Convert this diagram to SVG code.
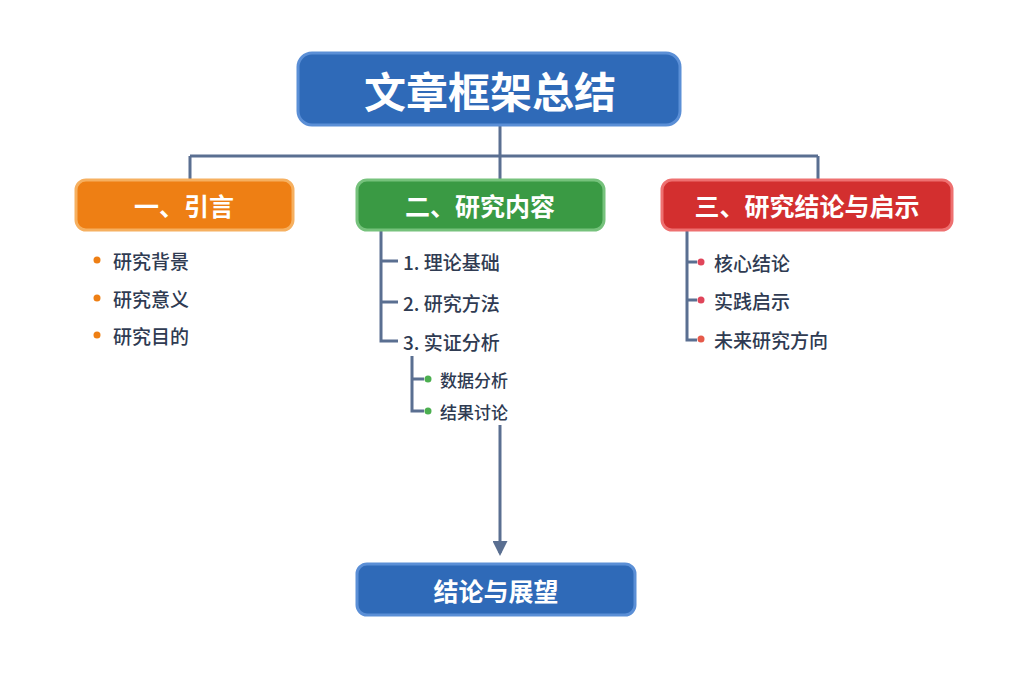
<svg xmlns="http://www.w3.org/2000/svg" width="1024" height="683" viewBox="0 0 1024 683">
<style>
text{font-family:"Noto Sans CJK SC","Noto Sans",sans-serif}
.hd{fill:#fff;font-weight:700;text-anchor:middle;dominant-baseline:central}
.it{fill:#2f3b52;font-size:19px;font-weight:500;dominant-baseline:central}
.sb{fill:#2f3b52;font-size:17px;font-weight:500;dominant-baseline:central}
.ln{stroke:#5a6f91;stroke-width:3;fill:none}
</style>
<defs><marker id="ah" viewBox="0 0 10 10" refX="8" refY="5" markerWidth="5" markerHeight="5" orient="auto"><path d="M0,0L10,5L0,10z" fill="#5a6f91"/></marker></defs>
<rect width="1024" height="683" fill="#fff"/>
<g id="connectors" class="ln">
<path d="M500,125V156M190,156H818M190,156V180M500,156V180M818,156V180"/>
<path d="M381,230V341H398M381,261H398M381,302H398"/>
<path d="M412,356V411H424M412,379H424"/>
<path d="M687,230V340H697M687,262H697M687,300H697"/>
<path d="M500,425V553" marker-end="url(#ah)"/>
</g>
<g id="root"><rect x="298" y="53" width="382" height="72" rx="14" fill="#2f6ab8" stroke="#5b8fd6" stroke-width="3"/><text class="hd" x="490" y="89" font-size="42">文章框架总结</text></g>
<g id="n1"><rect x="76" y="180" width="217" height="50" rx="10" fill="#ee7f14" stroke="#f6b060" stroke-width="3"/><text class="hd" x="184" y="205" font-size="25">一、引言</text>
<circle cx="97" cy="260" r="3.5" fill="#ee7f14"/><text class="it" x="113" y="260">研究背景</text>
<circle cx="97" cy="298" r="3.5" fill="#ee7f14"/><text class="it" x="113" y="298">研究意义</text>
<circle cx="97" cy="335" r="3.5" fill="#ee7f14"/><text class="it" x="113" y="335">研究目的</text></g>
<g id="n2"><rect x="357" y="180" width="247" height="50" rx="10" fill="#3a9a44" stroke="#76c27c" stroke-width="3"/><text class="hd" x="480" y="205" font-size="25">二、研究内容</text>
<text class="it" x="403" y="261" font-size="20">1. 理论基础</text>
<text class="it" x="403" y="302" font-size="20">2. 研究方法</text>
<text class="it" x="403" y="341" font-size="20">3. 实证分析</text>
<circle cx="428" cy="379" r="3.5" fill="#4caf50"/><text class="sb" x="440" y="379">数据分析</text>
<circle cx="428" cy="411" r="3.5" fill="#4caf50"/><text class="sb" x="440" y="411">结果讨论</text></g>
<g id="n3"><rect x="662" y="180" width="290" height="50" rx="10" fill="#d32f2f" stroke="#ee7070" stroke-width="3"/><text class="hd" x="807" y="205" font-size="25">三、研究结论与启示</text>
<circle cx="701" cy="262" r="3.5" fill="#e0455a"/><text class="it" x="714" y="262">核心结论</text>
<circle cx="701" cy="300" r="3.5" fill="#e0455a"/><text class="it" x="714" y="300">实践启示</text>
<circle cx="701" cy="339" r="3.5" fill="#e65a4a"/><text class="it" x="714" y="339">未来研究方向</text></g>
<g id="end"><rect x="357" y="564" width="278" height="51" rx="10" fill="#2f6ab8" stroke="#5b8fd6" stroke-width="3"/><text class="hd" x="496" y="590" font-size="25">结论与展望</text></g>
</svg>
